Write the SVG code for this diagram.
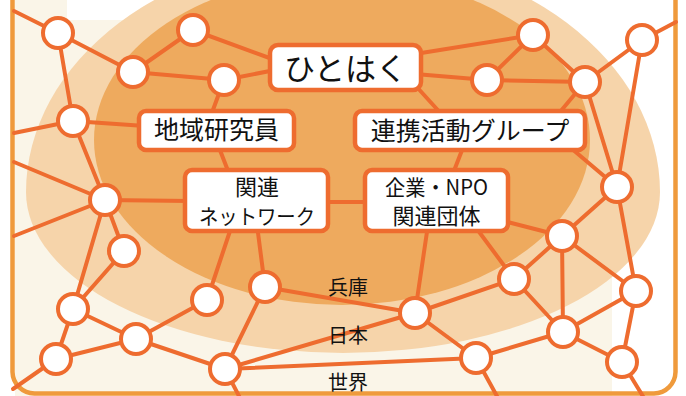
<svg xmlns="http://www.w3.org/2000/svg" width="686" height="396" viewBox="0 0 686 396">
<style>
.e{stroke:#ee6c2f;stroke-width:4;fill:none;stroke-linecap:round}
.n{fill:#fff;stroke:#ee6c2f;stroke-width:4}
.b{fill:#fff;stroke:#ee6c2f;stroke-width:4.5}
.t{font-family:'Noto Sans CJK JP','Noto Sans',sans-serif;fill:#111;text-anchor:middle}
</style>
<rect x="0" y="0" width="686" height="396" fill="#fff"/>
<path d="M15,0 H67 V20 H540 L612,150 V396 H15 Z" fill="#faf5e8"/>
<path d="M26,192 A317 239 0 0 1 660,192 A317 161 0 0 1 26,192 Z" fill="#f6d4aa"/>
<ellipse cx="342" cy="140" rx="248" ry="165" fill="#eeaa5e"/>
<path d="M12.5,0 V372 A22 22 0 0 0 34.5,393.5 H654 A22 22 0 0 0 675.5,372 V0" fill="none" stroke="#ef9a3c" stroke-width="4.5"/>
<g id="connectors">
<line class="e" x1="14" y1="11" x2="58" y2="33"/>
<line class="e" x1="58" y1="33" x2="133" y2="72"/>
<line class="e" x1="58" y1="33" x2="73" y2="121"/>
<line class="e" x1="133" y1="72" x2="193" y2="30"/>
<line class="e" x1="133" y1="72" x2="224" y2="80"/>
<line class="e" x1="193" y1="30" x2="275" y2="60"/>
<line class="e" x1="224" y1="80" x2="275" y2="70"/>
<line class="e" x1="224" y1="80" x2="210" y2="118"/>
<line class="e" x1="73" y1="121" x2="145" y2="126"/>
<line class="e" x1="73" y1="121" x2="105" y2="200"/>
<line class="e" x1="14" y1="133" x2="73" y2="121"/>
<line class="e" x1="14" y1="162" x2="105" y2="200"/>
<line class="e" x1="14" y1="236" x2="105" y2="200"/>
<line class="e" x1="105" y1="200" x2="190" y2="201"/>
<line class="e" x1="105" y1="200" x2="124" y2="251"/>
<line class="e" x1="105" y1="200" x2="73" y2="309"/>
<line class="e" x1="124" y1="251" x2="73" y2="309"/>
<line class="e" x1="73" y1="309" x2="56" y2="359"/>
<line class="e" x1="73" y1="309" x2="136" y2="339"/>
<line class="e" x1="56" y1="359" x2="136" y2="339"/>
<line class="e" x1="56" y1="359" x2="13" y2="389"/>
<line class="e" x1="136" y1="339" x2="207" y2="300"/>
<line class="e" x1="136" y1="339" x2="225" y2="369"/>
<line class="e" x1="207" y1="300" x2="232" y2="225"/>
<line class="e" x1="265" y1="287" x2="257" y2="225"/>
<line class="e" x1="265" y1="287" x2="225" y2="369"/>
<line class="e" x1="265" y1="287" x2="415" y2="313"/>
<line class="e" x1="225" y1="369" x2="415" y2="313"/>
<line class="e" x1="225" y1="369" x2="476" y2="358"/>
<line class="e" x1="225" y1="369" x2="240" y2="398"/>
<line class="e" x1="415" y1="313" x2="428" y2="225"/>
<line class="e" x1="415" y1="313" x2="514" y2="279"/>
<line class="e" x1="415" y1="313" x2="476" y2="358"/>
<line class="e" x1="474" y1="225" x2="514" y2="279"/>
<line class="e" x1="514" y1="279" x2="562" y2="236"/>
<line class="e" x1="514" y1="279" x2="563" y2="332"/>
<line class="e" x1="562" y1="236" x2="563" y2="332"/>
<line class="e" x1="562" y1="236" x2="636" y2="291"/>
<line class="e" x1="562" y1="236" x2="617" y2="187"/>
<line class="e" x1="500" y1="220" x2="562" y2="236"/>
<line class="e" x1="563" y1="332" x2="636" y2="291"/>
<line class="e" x1="563" y1="332" x2="622" y2="362"/>
<line class="e" x1="636" y1="291" x2="622" y2="362"/>
<line class="e" x1="636" y1="291" x2="617" y2="187"/>
<line class="e" x1="476" y1="358" x2="563" y2="332"/>
<line class="e" x1="476" y1="358" x2="498" y2="398"/>
<line class="e" x1="622" y1="362" x2="644" y2="398"/>
<line class="e" x1="617" y1="187" x2="585" y2="82"/>
<line class="e" x1="617" y1="187" x2="642" y2="40"/>
<line class="e" x1="585" y1="82" x2="555" y2="118"/>
<line class="e" x1="585" y1="82" x2="533" y2="35"/>
<line class="e" x1="585" y1="82" x2="487" y2="80"/>
<line class="e" x1="585" y1="82" x2="642" y2="40"/>
<line class="e" x1="533" y1="35" x2="487" y2="80"/>
<line class="e" x1="415" y1="54" x2="533" y2="35"/>
<line class="e" x1="415" y1="74" x2="487" y2="80"/>
<line class="e" x1="642" y1="40" x2="676" y2="22"/>
<line class="e" x1="565" y1="143" x2="617" y2="187"/>
<line class="e" x1="415" y1="85" x2="445" y2="118"/>
<line class="e" x1="464" y1="145" x2="452" y2="176"/>
<line class="e" x1="218" y1="145" x2="230" y2="176"/>
<line class="e" x1="320" y1="202" x2="372" y2="202"/>
</g>
<g id="n1"><circle class="n" cx="58" cy="33" r="15"/></g>
<g id="n2"><circle class="n" cx="133" cy="72" r="15"/></g>
<g id="n3"><circle class="n" cx="193" cy="30" r="15"/></g>
<g id="n4"><circle class="n" cx="224" cy="80" r="15"/></g>
<g id="n5"><circle class="n" cx="73" cy="121" r="15"/></g>
<g id="n6"><circle class="n" cx="105" cy="200" r="15"/></g>
<g id="n7"><circle class="n" cx="124" cy="251" r="15"/></g>
<g id="n8"><circle class="n" cx="73" cy="309" r="15"/></g>
<g id="n9"><circle class="n" cx="56" cy="359" r="15"/></g>
<g id="n10"><circle class="n" cx="136" cy="339" r="15"/></g>
<g id="n11"><circle class="n" cx="207" cy="300" r="15"/></g>
<g id="n12"><circle class="n" cx="225" cy="369" r="15"/></g>
<g id="n13"><circle class="n" cx="265" cy="287" r="15"/></g>
<g id="n14"><circle class="n" cx="415" cy="313" r="15"/></g>
<g id="n15"><circle class="n" cx="476" cy="358" r="15"/></g>
<g id="n16"><circle class="n" cx="514" cy="279" r="15"/></g>
<g id="n17"><circle class="n" cx="562" cy="236" r="15"/></g>
<g id="n18"><circle class="n" cx="636" cy="291" r="15"/></g>
<g id="n19"><circle class="n" cx="563" cy="332" r="15"/></g>
<g id="n20"><circle class="n" cx="622" cy="362" r="15"/></g>
<g id="n21"><circle class="n" cx="617" cy="187" r="15"/></g>
<g id="n22"><circle class="n" cx="585" cy="82" r="15"/></g>
<g id="n23"><circle class="n" cx="533" cy="35" r="15"/></g>
<g id="n24"><circle class="n" cx="487" cy="80" r="15"/></g>
<g id="n25"><circle class="n" cx="642" cy="40" r="15"/></g>
<g id="hitohaku"><rect class="b" x="270" y="45" width="151" height="45" rx="8"/><text class="t" x="345.5" y="80" font-size="31">ひとはく</text></g>
<g id="chiiki"><rect class="b" x="139" y="111" width="155" height="39" rx="7"/><text class="t" x="216.5" y="139" font-size="25">地域研究員</text></g>
<g id="renkei"><rect class="b" x="355" y="111" width="230" height="39" rx="7"/><text class="t" x="470" y="140" font-size="25">連携活動グループ</text></g>
<g id="network"><rect class="b" x="185" y="170" width="143" height="61" rx="7"/><text class="t" x="257" y="195" font-size="22">関連</text><text class="t" x="257" y="224" font-size="21" textLength="116" lengthAdjust="spacingAndGlyphs">ネットワーク</text></g>
<g id="kigyo"><rect class="b" x="365" y="170" width="143" height="61" rx="7"/><text class="t" x="436.5" y="195" font-size="21" textLength="103" lengthAdjust="spacingAndGlyphs">企業・NPO</text><text class="t" x="436.5" y="224" font-size="22">関連団体</text></g>
<g id="labels">
<text class="t" x="348" y="295" font-size="20">兵庫</text>
<text class="t" x="348" y="343" font-size="20">日本</text>
<text class="t" x="348" y="390" font-size="20">世界</text>
</g>
</svg>
